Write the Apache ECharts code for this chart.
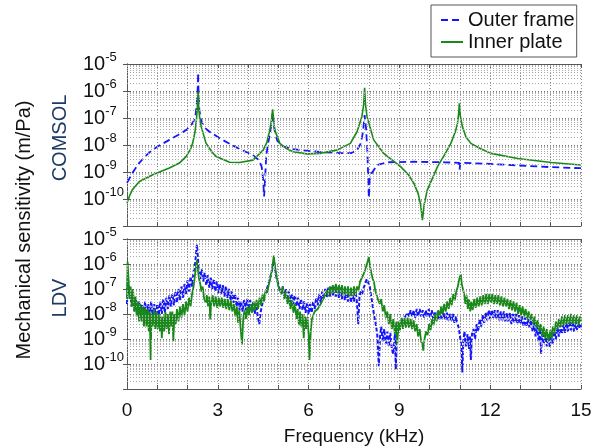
<!DOCTYPE html>
<html>
<head>
<meta charset="utf-8">
<script src="https://cdn.jsdelivr.net/npm/echarts@6/dist/echarts.min.js"></script>
<style>
  html, body { margin: 0; padding: 0; background: #fff; }
  #chart { width: 603px; height: 447px; }
</style>
</head>
<body>
<div id="chart"></div>
<script>
// [frequency kHz, log10 sensitivity m/Pa]
var comsolOuter = [
  [0,-9.40],[0.2,-9.0],[0.4,-8.67],[0.6,-8.42],[0.83,-8.19],[1.1,-8.0],[1.4,-7.81],[1.7,-7.62],[1.96,-7.44],
  [2.1,-7.3],[2.2,-7.12],[2.27,-6.85],[2.31,-6.4],[2.34,-5.8],[2.35,-5.33],[2.36,-5.9],[2.39,-6.7],[2.45,-7.1],
  [2.55,-7.35],[2.72,-7.5],[3.06,-7.75],[3.6,-8.08],[4.16,-8.38],[4.35,-8.55],[4.45,-8.8],[4.5,-9.3],[4.53,-9.91],
  [4.56,-9.3],[4.6,-8.4],[4.66,-7.95],[4.72,-7.6],[4.77,-7.25],[4.81,-6.8],[4.85,-7.25],[4.9,-7.6],[4.97,-7.85],
  [5.15,-8.05],[5.49,-8.15],[6.0,-8.22],[6.38,-8.26],[7.04,-8.3],[7.4,-8.3],[7.6,-8.19],[7.72,-7.95],[7.8,-7.5],
  [7.85,-6.89],[7.9,-7.4],[7.94,-8.2],[7.97,-9.2],[7.99,-9.96],[8.02,-9.3],[8.09,-9.04],[8.26,-8.74],[8.6,-8.64],
  [9.5,-8.62],[10.5,-8.64],[10.97,-8.66],[10.99,-8.9],[11.01,-8.66],[12,-8.7],[13,-8.76],[14,-8.82],[15,-8.86]
];
var comsolInner = [
  [0,-10.15],[0.08,-9.9],[0.17,-9.67],[0.4,-9.36],[0.83,-9.11],[1.4,-8.85],[1.73,-8.67],[1.95,-8.43],[2.1,-8.15],
  [2.17,-7.93],[2.25,-7.5],[2.3,-7.0],[2.33,-6.5],[2.35,-6.02],[2.37,-6.6],[2.4,-7.0],[2.45,-7.32],[2.61,-7.93],
  [2.8,-8.25],[2.95,-8.43],[3.39,-8.64],[3.72,-8.65],[4.16,-8.56],[4.5,-8.19],[4.62,-7.9],[4.72,-7.44],[4.77,-7.1],
  [4.81,-6.68],[4.84,-7.0],[4.88,-7.44],[5.05,-7.94],[5.25,-8.12],[5.49,-8.25],[5.94,-8.33],[6.38,-8.31],[6.93,-8.19],
  [7.38,-7.94],[7.6,-7.51],[7.76,-6.95],[7.82,-6.5],[7.85,-5.88],[7.88,-6.5],[7.93,-6.95],[8.15,-7.81],[8.48,-8.31],
  [9.04,-8.8],[9.3,-9.1],[9.48,-9.42],[9.62,-9.8],[9.7,-10.2],[9.76,-10.78],[9.82,-10.2],[9.92,-9.67],[10.26,-8.8],
  [10.5,-8.35],[10.7,-7.94],[10.85,-7.5],[10.92,-7.2],[10.96,-6.8],[10.98,-6.46],[11.01,-6.9],[11.08,-7.32],
  [11.2,-7.7],[11.36,-7.94],[11.7,-8.15],[12.03,-8.31],[12.91,-8.5],[14.02,-8.65],[15,-8.74]
];
var ldvOuter = [
  [0.00,-7.6],[0.03,-6.5],[0.06,-7.2],[0.1,-7.0],[0.15,-7.7],[0.2,-7.3],[0.25,-7.9],[0.3,-7.4],[0.35,-8.0],[0.4,-7.5],
  [0.45,-8.1],[0.5,-7.6],[0.55,-8.0],[0.6,-7.5],[0.65,-8.2],[0.7,-7.6],[0.75,-8.1],[0.8,-7.5],[0.85,-8.1],[0.9,-7.6],
  [0.95,-8.15],[1.0,-7.6],[1.05,-8.05],[1.1,-7.5],[1.15,-8.0],[1.2,-7.4],[1.25,-7.95],[1.3,-7.35],[1.35,-7.8],[1.4,-7.25],
  [1.45,-7.7],[1.5,-7.2],[1.55,-7.65],[1.6,-7.1],[1.65,-7.55],[1.7,-7.0],[1.75,-7.45],[1.8,-6.9],[1.85,-7.35],[1.9,-6.8],
  [1.95,-7.2],[2.0,-6.65],[2.05,-7.1],[2.1,-6.5],[2.15,-6.9],[2.2,-6.3],[2.25,-6.0],[2.28,-5.6],[2.31,-5.22],[2.34,-5.7],
  [2.37,-6.2],[2.42,-6.6],[2.47,-6.2],[2.52,-6.7],[2.57,-6.35],[2.62,-6.85],[2.67,-6.45],[2.72,-6.95],[2.77,-6.55],
  [2.82,-7.0],[2.87,-6.6],[2.92,-7.1],[2.97,-6.7],[3.02,-7.15],[3.07,-6.8],[3.12,-7.2],[3.17,-6.85],[3.22,-7.3],
  [3.27,-6.9],[3.32,-7.35],[3.37,-7.0],[3.42,-7.45],[3.47,-7.1],[3.52,-7.55],[3.57,-7.2],[3.62,-7.7],[3.67,-7.35],
  [3.72,-7.85],[3.77,-7.5],[3.82,-7.9],[3.87,-7.45],[3.92,-7.85],[3.97,-7.4],[4.02,-7.8],[4.07,-7.45],[4.12,-7.9],
  [4.17,-7.5],[4.22,-8.0],[4.27,-7.6],[4.32,-8.1],[4.37,-8.4],[4.42,-7.9],[4.47,-7.6],[4.52,-7.35],[4.57,-7.2],
  [4.62,-7.0],[4.67,-6.8],[4.72,-6.6],[4.77,-6.35],[4.82,-6.1],[4.86,-5.9],[4.9,-6.3],[4.95,-6.6],[5.0,-6.8],
  [5.05,-7.05],[5.1,-7.2],[5.15,-6.9],[5.2,-7.35],[5.25,-7.0],[5.3,-7.45],[5.35,-7.1],[5.4,-7.55],[5.45,-7.2],
  [5.5,-7.6],[5.55,-7.25],[5.6,-7.7],[5.65,-7.35],[5.7,-7.8],[5.75,-7.4],[5.8,-7.85],[5.85,-7.5],[5.9,-7.95],
  [5.95,-7.55],[6.0,-8.0],[6.05,-7.6],[6.1,-7.95],[6.15,-7.5],[6.2,-7.8],[6.25,-7.35],[6.3,-7.65],[6.35,-7.2],
  [6.4,-7.55],[6.45,-7.1],[6.5,-7.4],[6.55,-7.0],[6.6,-7.35],[6.65,-6.95],[6.7,-7.3],[6.75,-6.9],[6.8,-7.25],
  [6.85,-6.9],[6.9,-7.3],[6.95,-6.95],[7.0,-7.35],[7.05,-6.95],[7.1,-7.4],[7.15,-7.0],[7.2,-7.45],[7.25,-7.05],
  [7.3,-7.5],[7.35,-7.1],[7.4,-7.55],[7.45,-7.15],[7.5,-7.5],[7.55,-7.1],[7.6,-7.55],[7.64,-8.4],[7.68,-7.3],
  [7.72,-7.1],[7.77,-7.2],[7.82,-6.95],[7.87,-6.8],[7.92,-6.6],[7.97,-6.55],[8.02,-6.9],[8.07,-7.3],[8.12,-7.7],
  [8.17,-8.1],[8.22,-8.4],[8.27,-8.85],[8.32,-10.09],[8.36,-8.9],[8.4,-8.5],[8.45,-9.1],[8.5,-8.6],[8.55,-9.2],
  [8.6,-8.7],[8.65,-9.3],[8.7,-8.75],[8.75,-9.4],[8.8,-9.6],[8.85,-8.8],[8.88,-10.22],[8.92,-8.9],[8.97,-8.6],
  [9.02,-8.6],[9.07,-8.3],[9.12,-8.35],[9.17,-8.15],[9.22,-8.2],[9.27,-7.95],[9.32,-8.1],[9.37,-7.85],[9.42,-8.1],
  [9.47,-7.85],[9.52,-8.15],[9.57,-7.8],[9.62,-8.1],[9.67,-7.8],[9.72,-8.1],[9.77,-7.85],[9.82,-8.15],[9.87,-7.85],
  [9.92,-8.1],[9.97,-7.8],[10.02,-8.15],[10.07,-7.85],[10.12,-8.2],[10.17,-7.9],[10.22,-8.2],[10.27,-7.9],
  [10.32,-8.25],[10.37,-7.9],[10.42,-8.2],[10.47,-7.95],[10.52,-8.25],[10.57,-7.95],[10.62,-8.25],[10.67,-8.0],
  [10.72,-8.3],[10.77,-8.0],[10.82,-8.35],[10.87,-8.1],[10.92,-8.4],[10.97,-8.6],[11.01,-8.97],[11.05,-9.3],
  [11.08,-10.34],[11.11,-9.1],[11.15,-8.7],[11.2,-9.3],[11.25,-8.8],[11.3,-9.4],[11.33,-8.9],[11.36,-9.84],
  [11.4,-8.8],[11.45,-8.6],[11.5,-9.0],[11.55,-8.4],[11.6,-8.7],[11.65,-8.2],[11.7,-8.5],[11.75,-8.05],[11.8,-8.35],
  [11.85,-7.95],[11.9,-8.25],[11.95,-7.85],[12.0,-8.2],[12.05,-7.85],[12.1,-8.15],[12.15,-7.85],[12.2,-8.2],
  [12.25,-7.85],[12.3,-8.25],[12.35,-7.9],[12.4,-8.25],[12.45,-7.9],[12.5,-8.3],[12.55,-7.95],[12.6,-8.3],
  [12.65,-7.95],[12.7,-8.4],[12.75,-8.0],[12.8,-8.35],[12.85,-8.0],[12.9,-8.4],[12.95,-8.05],[13.0,-8.4],
  [13.05,-8.1],[13.1,-8.5],[13.15,-8.15],[13.2,-8.5],[13.25,-8.2],[13.3,-8.55],[13.35,-8.25],[13.4,-8.7],
  [13.45,-8.35],[13.5,-8.9],[13.55,-8.5],[13.6,-9.1],[13.65,-8.6],[13.68,-9.6],[13.72,-8.7],[13.77,-9.2],
  [13.82,-8.7],[13.87,-9.3],[13.92,-8.8],[13.97,-9.34],[14.02,-8.8],[14.07,-9.2],[14.12,-8.7],[14.17,-9.0],
  [14.22,-8.55],[14.27,-8.9],[14.32,-8.45],[14.37,-8.8],[14.42,-8.4],[14.47,-8.75],[14.52,-8.35],[14.57,-8.7],
  [14.62,-8.3],[14.67,-8.65],[14.72,-8.3],[14.77,-8.7],[14.82,-8.3],[14.87,-8.65],[14.92,-8.25],[14.97,-8.6],[15.0,-8.41]
];
var ldvInner = [
  [0.0,-7.4],[0.02,-5.91],[0.05,-6.6],[0.08,-7.4],[0.12,-6.9],[0.16,-7.7],[0.2,-7.0],[0.24,-7.9],[0.28,-7.3],
  [0.32,-8.1],[0.36,-7.5],[0.4,-8.3],[0.44,-7.6],[0.48,-8.3],[0.52,-7.7],[0.56,-8.5],[0.6,-7.75],[0.64,-8.5],
  [0.68,-7.8],[0.72,-8.7],[0.75,-7.9],[0.78,-9.84],[0.81,-8.0],[0.85,-8.5],[0.89,-7.8],[0.93,-8.6],[0.97,-7.9],
  [1.01,-8.6],[1.05,-8.0],[1.09,-8.7],[1.12,-8.1],[1.15,-8.97],[1.19,-8.1],[1.23,-8.7],[1.27,-7.9],[1.31,-8.6],
  [1.35,-8.0],[1.39,-8.8],[1.43,-7.9],[1.47,-8.5],[1.5,-7.9],[1.53,-9.09],[1.57,-8.0],[1.61,-8.4],[1.65,-7.8],
  [1.7,-8.3],[1.75,-7.7],[1.8,-8.15],[1.85,-7.6],[1.9,-8.05],[1.95,-7.5],[2.0,-7.9],[2.05,-7.35],[2.1,-7.7],
  [2.15,-7.2],[2.2,-6.9],[2.24,-6.5],[2.28,-6.1],[2.31,-5.85],[2.34,-6.2],[2.38,-6.6],[2.42,-6.8],[2.46,-7.1],
  [2.5,-6.9],[2.55,-7.4],[2.6,-7.55],[2.64,-7.25],[2.68,-7.7],[2.72,-7.3],[2.75,-8.22],[2.78,-7.6],[2.83,-7.25],
  [2.88,-7.7],[2.93,-7.3],[2.98,-7.75],[3.03,-7.35],[3.08,-7.7],[3.13,-7.35],[3.18,-7.75],[3.23,-7.4],[3.28,-7.8],
  [3.33,-7.4],[3.38,-7.85],[3.43,-7.45],[3.48,-7.9],[3.53,-7.6],[3.58,-8.1],[3.63,-7.7],[3.67,-8.35],[3.71,-7.85],
  [3.75,-8.5],[3.8,-9.22],[3.84,-8.2],[3.88,-7.85],[3.93,-8.2],[3.98,-7.7],[4.03,-8.05],[4.08,-7.6],[4.13,-7.95],
  [4.18,-7.5],[4.23,-7.85],[4.28,-7.45],[4.33,-7.8],[4.38,-7.35],[4.43,-7.65],[4.48,-7.2],[4.53,-7.5],[4.58,-7.05],
  [4.63,-7.15],[4.68,-6.85],[4.73,-6.6],[4.78,-6.3],[4.82,-5.95],[4.85,-5.66],[4.88,-6.0],[4.92,-6.35],[4.96,-6.6],
  [5.0,-6.9],[5.05,-6.85],[5.1,-7.2],[5.15,-6.9],[5.2,-7.4],[5.25,-7.1],[5.3,-7.6],[5.35,-7.3],[5.4,-7.8],
  [5.45,-7.45],[5.5,-7.95],[5.55,-7.6],[5.6,-8.2],[5.64,-7.8],[5.68,-8.45],[5.72,-7.9],[5.76,-8.5],[5.8,-8.0],
  [5.84,-8.97],[5.88,-8.1],[5.92,-8.6],[5.96,-8.12],[6.0,-8.8],[6.03,-9.84],[6.07,-8.7],[6.11,-8.2],[6.15,-8.2],
  [6.2,-7.9],[6.25,-7.95],[6.3,-7.8],[6.35,-7.8],[6.4,-7.6],[6.45,-7.6],[6.5,-7.35],[6.55,-7.35],[6.6,-7.05],
  [6.65,-7.3],[6.7,-6.9],[6.75,-7.2],[6.8,-6.85],[6.85,-7.15],[6.9,-6.8],[6.95,-7.15],[7.0,-6.85],[7.05,-7.2],
  [7.1,-6.85],[7.15,-7.25],[7.2,-6.9],[7.25,-7.25],[7.3,-6.9],[7.35,-7.3],[7.4,-6.95],[7.45,-7.3],[7.5,-6.9],
  [7.55,-7.25],[7.6,-6.9],[7.65,-7.05],[7.7,-6.7],[7.75,-6.75],[7.8,-6.45],[7.85,-6.3],[7.9,-6.1],[7.95,-5.9],
  [7.99,-5.72],[8.03,-6.1],[8.08,-6.4],[8.12,-6.6],[8.16,-6.72],[8.2,-7.05],[8.25,-7.1],[8.3,-7.45],[8.35,-7.6],
  [8.4,-7.4],[8.45,-7.9],[8.5,-7.65],[8.55,-8.15],[8.6,-7.9],[8.65,-8.4],[8.7,-8.0],[8.75,-8.6],[8.8,-8.2],
  [8.85,-8.8],[8.9,-8.3],[8.93,-9.22],[8.97,-8.3],[9.02,-8.65],[9.07,-8.15],[9.12,-8.6],[9.17,-8.15],[9.22,-8.55],
  [9.27,-8.15],[9.32,-8.55],[9.37,-8.2],[9.42,-8.6],[9.47,-8.25],[9.52,-8.7],[9.57,-8.4],[9.62,-8.9],[9.67,-8.6],
  [9.72,-9.1],[9.76,-9.2],[9.79,-9.47],[9.83,-9.0],[9.88,-8.7],[9.93,-8.85],[9.98,-8.4],[10.03,-8.65],[10.08,-8.2],
  [10.13,-8.45],[10.18,-8.0],[10.23,-8.3],[10.28,-7.85],[10.33,-8.1],[10.38,-7.7],[10.43,-8.0],[10.48,-7.6],
  [10.53,-7.9],[10.58,-7.5],[10.63,-7.8],[10.68,-7.35],[10.73,-7.65],[10.78,-7.2],[10.83,-7.45],[10.88,-7.1],
  [10.93,-6.9],[10.97,-6.65],[11.0,-6.5],[11.03,-6.41],[11.06,-6.8],[11.1,-7.0],[11.14,-7.22],[11.18,-7.6],
  [11.22,-7.25],[11.26,-7.8],[11.3,-7.4],[11.34,-7.9],[11.38,-7.5],[11.42,-7.85],[11.47,-7.4],[11.52,-7.75],
  [11.57,-7.35],[11.62,-7.7],[11.67,-7.3],[11.72,-7.65],[11.77,-7.25],[11.82,-7.6],[11.87,-7.2],[11.92,-7.6],
  [11.97,-7.2],[12.02,-7.55],[12.07,-7.2],[12.12,-7.6],[12.17,-7.25],[12.22,-7.6],[12.27,-7.25],[12.32,-7.65],
  [12.37,-7.3],[12.42,-7.7],[12.47,-7.35],[12.52,-7.7],[12.57,-7.4],[12.62,-7.8],[12.67,-7.45],[12.72,-7.85],
  [12.77,-7.5],[12.82,-7.9],[12.87,-7.55],[12.92,-8.0],[12.97,-7.65],[13.02,-8.05],[13.07,-7.7],[13.12,-8.1],
  [13.17,-7.8],[13.22,-8.2],[13.27,-7.9],[13.32,-8.25],[13.37,-8.0],[13.42,-8.4],[13.47,-8.1],[13.52,-8.55],
  [13.57,-8.25],[13.62,-8.7],[13.67,-8.4],[13.72,-8.9],[13.77,-8.5],[13.82,-9.0],[13.87,-8.6],[13.92,-9.1],
  [13.95,-9.09],[13.99,-8.65],[14.03,-9.0],[14.07,-8.5],[14.12,-8.8],[14.17,-8.3],[14.22,-8.6],[14.27,-8.2],
  [14.32,-8.5],[14.37,-8.1],[14.42,-8.45],[14.47,-8.05],[14.52,-8.4],[14.57,-8.05],[14.62,-8.4],[14.67,-8.0],
  [14.72,-8.4],[14.77,-8.05],[14.82,-8.4],[14.87,-8.05],[14.92,-8.45],[14.97,-8.1],[15.0,-8.3]
];
var seriesNames = ['Outer frame', 'Inner plate'];
var xTickLabels = [0, 3, 6, 9, 12, 15];

var FONT = '"Liberation Sans", Arial, sans-serif';
var BLUE = '#1414ff';
var GREEN = '#178a17';

// minor log grid lines at 2..9 x 10^n, in exponent units
var minorLines = [];
for (var e = -11; e < -5; e++) {
  for (var k = 2; k <= 9; k++) {
    minorLines.push({ yAxis: e + Math.log10(k) });
  }
}

var chart = echarts.init(document.getElementById('chart'));

function xAxisFor(gi, showLabels) {
  return {
    type: 'value', gridIndex: gi, min: 0, max: 15, interval: 1,
    axisLine: { show: true, lineStyle: { color: '#555' } },
    axisTick: { show: true, inside: true, length: 4, lineStyle: { color: '#555' } },
    splitLine: { show: true, lineStyle: { type: [1, 2], color: '#8c8c8c' } },
    axisLabel: {
      show: showLabels, margin: 12, fontSize: 19, fontFamily: FONT, color: '#111',
      formatter: function (v) { return xTickLabels.indexOf(v) >= 0 ? String(v) : ''; }
    },
    name: showLabels ? 'Frequency (kHz)' : '',
    nameLocation: 'middle', nameGap: 38,
    nameTextStyle: { fontSize: 19, fontFamily: FONT, color: '#111' }
  };
}
function topAxisFor(gi) {
  return {
    type: 'value', gridIndex: gi, min: 0, max: 15, interval: 1, position: 'top',
    axisLine: { show: true, lineStyle: { color: '#555' } },
    axisTick: { show: true, inside: true, length: 4, lineStyle: { color: '#555' } },
    splitLine: { show: false }, axisLabel: { show: false }
  };
}
function yAxisFor(gi) {
  return {
    type: 'value', gridIndex: gi, min: -11, max: -5, interval: 1,
    axisLine: { show: true, lineStyle: { color: '#555' } },
    axisTick: { show: true, inside: true, length: 4, lineStyle: { color: '#555' } },
    splitLine: { show: true, lineStyle: { type: [1, 2], color: '#777' } },
    axisLabel: {
      align: 'left', margin: 44,
      formatter: function (v) {
        if (v <= -11) return '';
        return '{b|10}{e|' + v + '}';
      },
      rich: {
        b: { fontSize: 20, fontFamily: FONT, color: '#111' },
        e: { fontSize: 13, fontFamily: FONT, color: '#111', padding: [0, 0, 14, 0] }
      }
    }
  };
}
function rightAxisFor(gi) {
  return {
    type: 'value', gridIndex: gi, min: -11, max: -5, interval: 1, position: 'right',
    axisLine: { show: true, lineStyle: { color: '#555' } },
    axisTick: { show: true, inside: true, length: 4, lineStyle: { color: '#555' } },
    splitLine: { show: false }, axisLabel: { show: false }
  };
}
function gridLinesSeries(gi) {
  return {
    type: 'line', xAxisIndex: gi, yAxisIndex: gi, silent: true, z: 1,
    data: [[0, -11], [15, -11]], showSymbol: false, symbol: 'none',
    lineStyle: { width: 0, opacity: 0 },
    markLine: {
      silent: true, symbol: 'none', animation: false,
      label: { show: false },
      lineStyle: { type: [1, 2], color: '#aaaaaa', width: 1 },
      data: minorLines
    }
  };
}

var option = {
  animation: false,
  backgroundColor: '#fff',
  grid: [
    { left: 127, right: 22, top: 64, height: 162 },
    { left: 127, right: 22, top: 239, height: 160 }
  ],
  xAxis: [xAxisFor(0, false), xAxisFor(1, true), topAxisFor(0), topAxisFor(1)],
  yAxis: [yAxisFor(0), yAxisFor(1), rightAxisFor(0), rightAxisFor(1)],
  legend: {
    data: seriesNames,
    orient: 'vertical', left: 431, top: 5,
    padding: [5, 2, 5, 9], itemGap: 2, itemWidth: 22, itemHeight: 14,
    backgroundColor: '#fff', borderColor: '#555', borderWidth: 1,
    itemStyle: { color: 'rgba(0,0,0,0)', borderColor: 'rgba(0,0,0,0)', borderWidth: 0 },
    textStyle: { fontSize: 20, fontFamily: FONT, color: '#111' }
  },
  graphic: [
    { type: 'text', x: 24, y: 230, rotation: Math.PI / 2,
      style: { text: 'Mechanical sensitivity (m/Pa)', fontSize: 20, fontFamily: FONT, fill: '#111', align: 'center', verticalAlign: 'middle' } },
    { type: 'text', x: 60, y: 138, rotation: Math.PI / 2,
      style: { text: 'COMSOL', fontSize: 20, fontFamily: FONT, fill: '#1c3a66', align: 'center', verticalAlign: 'middle' } },
    { type: 'text', x: 60, y: 298, rotation: Math.PI / 2,
      style: { text: 'LDV', fontSize: 20, fontFamily: FONT, fill: '#1c3a66', align: 'center', verticalAlign: 'middle' } }
  ],
  series: [
    gridLinesSeries(0),
    { name: seriesNames[0], type: 'line', xAxisIndex: 0, yAxisIndex: 0, showSymbol: false, symbol: 'none', z: 3,
      data: comsolOuter, lineStyle: { color: BLUE, width: 1.8, type: [7, 4] }, itemStyle: { color: BLUE } },
    { name: seriesNames[1], type: 'line', xAxisIndex: 0, yAxisIndex: 0, showSymbol: false, symbol: 'none', z: 4,
      data: comsolInner, lineStyle: { color: GREEN, width: 1.6 }, itemStyle: { color: GREEN } },
    gridLinesSeries(1),
    { name: seriesNames[0], type: 'line', xAxisIndex: 1, yAxisIndex: 1, showSymbol: false, symbol: 'none', z: 3,
      data: ldvOuter, lineStyle: { color: BLUE, width: 2, type: [4, 2] }, itemStyle: { color: BLUE } },
    { name: seriesNames[1], type: 'line', xAxisIndex: 1, yAxisIndex: 1, showSymbol: false, symbol: 'none', z: 4,
      data: ldvInner, lineStyle: { color: GREEN, width: 1.8 }, itemStyle: { color: GREEN } }
  ]
};
chart.setOption(option);
</script>
</body>
</html>
